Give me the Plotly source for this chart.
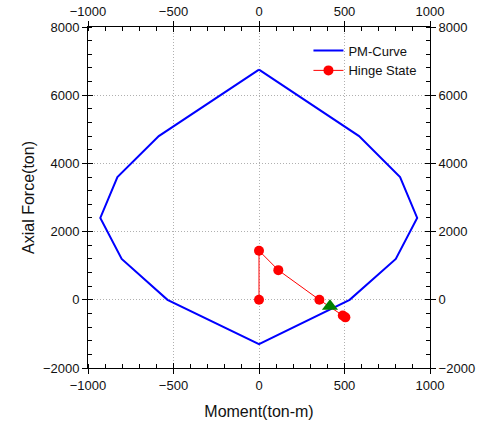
import plotly.graph_objects as go

# PM interaction curve (Moment ton-m, Axial ton)
pm_moment = [0, 585, 825, 925, 800, 530, 0, -535, -803, -928, -828, -586, 0]
pm_axial = [6750, 4800, 3600, 2400, 1200, 0, -1300, 0, 1200, 2400, 3600, 4800, 6750]

# Hinge state path
hinge_moment = [0, 0, 113, 353, 490, 505]
hinge_axial = [0, 1440, 870, 0, -460, -515]

# Current state marker
cur_moment = [415]
cur_axial = [-190]

x_ticks = [-1000, -500, 0, 500, 1000]
y_ticks = [-2000, 0, 2000, 4000, 6000, 8000]

font = "Liberation Sans, Arial, sans-serif"
fig = go.Figure()
fig.add_trace(go.Scatter(x=pm_moment, y=pm_axial, mode="lines", name="PM-Curve",
                         line=dict(color="#0000ff", width=2)))
fig.add_trace(go.Scatter(x=hinge_moment, y=hinge_axial, mode="lines+markers", name="Hinge State",
                         line=dict(color="#ff0000", width=1),
                         marker=dict(color="#ff0000", size=10, symbol="circle")))
fig.add_trace(go.Scatter(x=cur_moment, y=cur_axial, mode="markers", showlegend=False,
                         marker=dict(color="#008000", size=14, symbol="triangle-up")))
# invisible traces to activate top/right and tick-overlay axes
for xa, ya in [("x2", "y2"), ("x3", "y3"), ("x4", "y4")]:
    fig.add_trace(go.Scatter(x=[0], y=[0], xaxis=xa, yaxis=ya, mode="markers",
                             marker=dict(opacity=0), showlegend=False, hoverinfo="skip"))

tickfont = dict(family=font, size=13, color="#111")
common = dict(showline=True, linecolor="black", linewidth=1, ticks="outside", ticklen=5,
              tickcolor="black", tickfont=tickfont, zeroline=False, automargin=False)
minor_x = dict(dtick=100, ticks="inside", ticklen=4, tickcolor="black", showgrid=False)
minor_y = dict(dtick=400, ticks="inside", ticklen=4, tickcolor="black", showgrid=False)
inner = dict(showline=False, ticks="inside", ticklen=5, tickcolor="black", showticklabels=False,
             showgrid=False, zeroline=False, automargin=False)

fig.update_layout(
    width=481, height=430,
    margin=dict(l=88, r=51, t=27, b=62),
    paper_bgcolor="white", plot_bgcolor="white",
    font=dict(family=font, size=13, color="#111"),
    xaxis=dict(range=[-1000, 1000], tickvals=x_ticks, showgrid=True, gridcolor="#b0b0b0",
               griddash="1px,2px", gridwidth=1, minor=minor_x,
               title=dict(text="Moment(ton-m)", font=dict(family=font, size=16, color="#111"), standoff=14),
               **common),
    yaxis=dict(range=[-2000, 8000], tickvals=y_ticks, showgrid=True, gridcolor="#b0b0b0",
               griddash="1px,2px", gridwidth=1, minor=minor_y,
               title=dict(text="Axial Force(ton)", font=dict(family=font, size=16, color="#111"), standoff=4),
               **common),
    xaxis2=dict(range=[-1000, 1000], tickvals=x_ticks, overlaying="x", side="top", anchor="y",
                showgrid=False, minor=minor_x, **common),
    yaxis2=dict(range=[-2000, 8000], tickvals=y_ticks, overlaying="y", side="right", anchor="x",
                showgrid=False, minor=minor_y, **common),
    xaxis3=dict(range=[-1000, 1000], tickvals=x_ticks, overlaying="x", side="bottom", anchor="y", **inner),
    yaxis3=dict(range=[-2000, 8000], tickvals=y_ticks, overlaying="y", side="left", anchor="x", **inner),
    xaxis4=dict(range=[-1000, 1000], tickvals=x_ticks, overlaying="x", side="top", anchor="y", **inner),
    yaxis4=dict(range=[-2000, 8000], tickvals=y_ticks, overlaying="y", side="right", anchor="x", **inner),
    legend=dict(x=0.975, y=0.975, xanchor="right", yanchor="top", bgcolor="rgba(0,0,0,0)",
                font=dict(family=font, size=13, color="#111"), itemwidth=30,
                tracegroupgap=0),
    showlegend=True,
)
fig.write_html("out.html")
